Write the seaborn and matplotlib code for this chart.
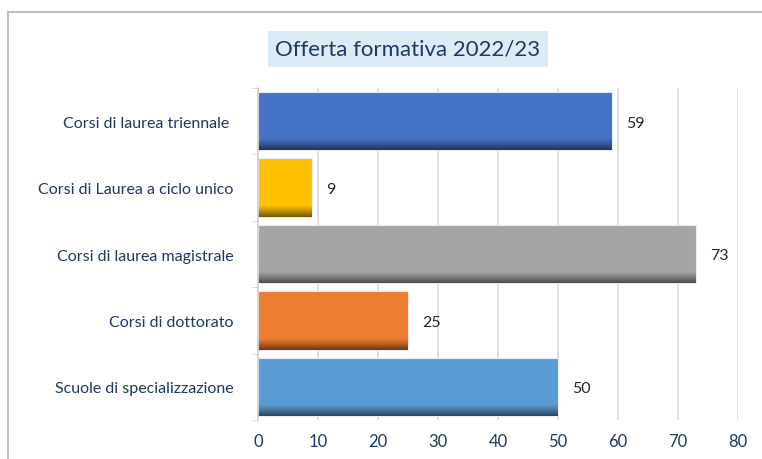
import numpy as np
import pandas as pd
import matplotlib
matplotlib.use("Agg")
import matplotlib.pyplot as plt
from matplotlib.patches import Rectangle
import seaborn as sns

categorie = ["Corsi di laurea triennale ", "Corsi di Laurea a ciclo unico",
             "Corsi di laurea magistrale", "Corsi di dottorato",
             "Scuole di specializzazione"]
valori = [59, 9, 73, 25, 50]
colori = ["#4472C4", "#FFC000", "#A5A5A5", "#ED7D31", "#5B9BD5"]

navy = "#1F3864"

sns.set_style("white")
plt.rcParams["font.family"] = ["Lato", "DejaVu Sans"]

df = pd.DataFrame({"categoria": categorie, "valore": valori})

fig = plt.figure(figsize=(7.62, 4.60), dpi=100)
ax = fig.add_axes([258 / 762, 1 - 421 / 460, 480 / 762, 332 / 460])

sns.barplot(data=df, y="categoria", x="valore", hue="categoria",
            palette=colori, legend=False, width=0.88, saturation=1, ax=ax,
            edgecolor="#E8ECF4", linewidth=0.8)

# sfumatura scura sul bordo inferiore delle barre
n = 100
grad = np.zeros((n, 1, 4))
t = np.linspace(0, 1, n)
alpha = np.clip((t - 0.8) / 0.2, 0, 1) ** 1.2 * 0.55
grad[:, 0, 3] = alpha
for p in ax.patches:
    x0, y0 = p.get_x(), p.get_y()
    w, h = p.get_width(), p.get_height()
    im = ax.imshow(grad, extent=(x0, x0 + w, y0 + h, y0), origin="upper",
                   aspect="auto", zorder=p.get_zorder() + 0.1)
    im.set_clip_path(p)
    ax.annotate(f"{int(w)}", (x0 + w, y0 + h / 2), xytext=(10, -1),
                textcoords="offset points", va="center", ha="left",
                fontsize=11.5, color="#262626")

ax.set_xlim(0, 80)
ax.set_ylim(len(categorie) - 0.5, -0.5)
ax.set_xticks(range(0, 81, 10))
ax.grid(axis="x", color="#D9D9D9", linewidth=1.2)
ax.set_axisbelow(True)
for s in ["top", "right", "bottom"]:
    ax.spines[s].set_visible(False)
ax.spines["left"].set_color("#D0D0D0")
ax.spines["left"].set_linewidth(1.2)

ax.set_yticks(np.arange(-0.5, len(categorie), 1), minor=True)
ax.tick_params(axis="y", which="minor", left=True, length=4, color="#D0D0D0")
ax.tick_params(axis="y", which="major", left=False, labelsize=11.5,
               labelcolor=navy, pad=14)
ax.tick_params(axis="x", bottom=False, labelsize=12, labelcolor=navy, pad=6)
ax.set_xlabel("")
ax.set_ylabel("")

fig.text(408 / 762, 1 - 50 / 460, "Offerta formativa 2022/23", ha="center",
         va="center", fontsize=16, color=navy,
         bbox=dict(boxstyle="square,pad=0.35", fc="#DDEBF7", ec="none"))

# cornice del grafico
fig.patches.append(Rectangle((8 / 762, -0.1), 1.2, 1 - 13 / 460 + 0.1,
                             transform=fig.transFigure, fill=False,
                             ec="#BFBFBF", lw=1.5))

fig.savefig("out.png", dpi=100)
